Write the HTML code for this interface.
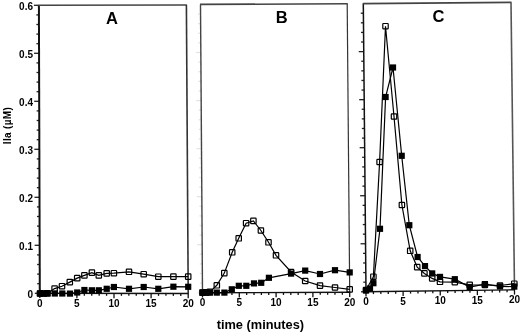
<!DOCTYPE html>
<html><head><meta charset="utf-8"><style>
html,body{margin:0;padding:0;background:#fff;}
body{width:520px;height:333px;overflow:hidden;}
svg{display:block;filter:blur(0.3px);}
text{font-family:"Liberation Sans",sans-serif;font-weight:bold;fill:#000;}
</style></head><body>
<svg width="520" height="333" viewBox="0 0 520 333">
<rect width="520" height="333" fill="#fff"/>
<line x1="34.80" y1="293.30" x2="39.80" y2="293.30" stroke="#222" stroke-width="1.3"/>
<line x1="37.17" y1="283.70" x2="39.77" y2="283.70" stroke="#222" stroke-width="1.3"/>
<line x1="37.14" y1="274.10" x2="39.74" y2="274.10" stroke="#222" stroke-width="1.3"/>
<line x1="37.11" y1="264.50" x2="39.71" y2="264.50" stroke="#222" stroke-width="1.3"/>
<line x1="37.08" y1="254.90" x2="39.68" y2="254.90" stroke="#222" stroke-width="1.3"/>
<line x1="34.65" y1="245.30" x2="39.65" y2="245.30" stroke="#222" stroke-width="1.3"/>
<line x1="37.02" y1="235.70" x2="39.62" y2="235.70" stroke="#222" stroke-width="1.3"/>
<line x1="36.99" y1="226.10" x2="39.59" y2="226.10" stroke="#222" stroke-width="1.3"/>
<line x1="36.96" y1="216.50" x2="39.56" y2="216.50" stroke="#222" stroke-width="1.3"/>
<line x1="36.93" y1="206.90" x2="39.53" y2="206.90" stroke="#222" stroke-width="1.3"/>
<line x1="34.50" y1="197.30" x2="39.50" y2="197.30" stroke="#222" stroke-width="1.3"/>
<line x1="36.87" y1="187.70" x2="39.47" y2="187.70" stroke="#222" stroke-width="1.3"/>
<line x1="36.84" y1="178.10" x2="39.44" y2="178.10" stroke="#222" stroke-width="1.3"/>
<line x1="36.81" y1="168.50" x2="39.41" y2="168.50" stroke="#222" stroke-width="1.3"/>
<line x1="36.78" y1="158.90" x2="39.38" y2="158.90" stroke="#222" stroke-width="1.3"/>
<line x1="34.35" y1="149.30" x2="39.35" y2="149.30" stroke="#222" stroke-width="1.3"/>
<line x1="36.72" y1="139.70" x2="39.32" y2="139.70" stroke="#222" stroke-width="1.3"/>
<line x1="36.69" y1="130.10" x2="39.29" y2="130.10" stroke="#222" stroke-width="1.3"/>
<line x1="36.66" y1="120.50" x2="39.26" y2="120.50" stroke="#222" stroke-width="1.3"/>
<line x1="36.63" y1="110.90" x2="39.23" y2="110.90" stroke="#222" stroke-width="1.3"/>
<line x1="34.20" y1="101.30" x2="39.20" y2="101.30" stroke="#222" stroke-width="1.3"/>
<line x1="36.57" y1="91.70" x2="39.17" y2="91.70" stroke="#222" stroke-width="1.3"/>
<line x1="36.54" y1="82.10" x2="39.14" y2="82.10" stroke="#222" stroke-width="1.3"/>
<line x1="36.51" y1="72.50" x2="39.11" y2="72.50" stroke="#222" stroke-width="1.3"/>
<line x1="36.48" y1="62.90" x2="39.08" y2="62.90" stroke="#222" stroke-width="1.3"/>
<line x1="34.05" y1="53.30" x2="39.05" y2="53.30" stroke="#222" stroke-width="1.3"/>
<line x1="36.42" y1="43.70" x2="39.02" y2="43.70" stroke="#222" stroke-width="1.3"/>
<line x1="36.39" y1="34.10" x2="38.99" y2="34.10" stroke="#222" stroke-width="1.3"/>
<line x1="36.36" y1="24.50" x2="38.96" y2="24.50" stroke="#222" stroke-width="1.3"/>
<line x1="36.33" y1="14.90" x2="38.93" y2="14.90" stroke="#222" stroke-width="1.3"/>
<line x1="33.90" y1="5.30" x2="38.90" y2="5.30" stroke="#222" stroke-width="1.3"/>
<line x1="39.80" y1="293.30" x2="39.80" y2="298.10" stroke="#111" stroke-width="1.3"/>
<line x1="47.22" y1="293.31" x2="47.22" y2="295.71" stroke="#111" stroke-width="1.3"/>
<line x1="54.64" y1="293.32" x2="54.64" y2="295.72" stroke="#111" stroke-width="1.3"/>
<line x1="62.06" y1="293.33" x2="62.06" y2="295.73" stroke="#111" stroke-width="1.3"/>
<line x1="69.48" y1="293.34" x2="69.48" y2="295.74" stroke="#111" stroke-width="1.3"/>
<line x1="76.90" y1="293.35" x2="76.90" y2="298.15" stroke="#111" stroke-width="1.3"/>
<line x1="84.32" y1="293.36" x2="84.32" y2="295.76" stroke="#111" stroke-width="1.3"/>
<line x1="91.74" y1="293.37" x2="91.74" y2="295.77" stroke="#111" stroke-width="1.3"/>
<line x1="99.16" y1="293.38" x2="99.16" y2="295.78" stroke="#111" stroke-width="1.3"/>
<line x1="106.58" y1="293.39" x2="106.58" y2="295.79" stroke="#111" stroke-width="1.3"/>
<line x1="114.00" y1="293.40" x2="114.00" y2="298.20" stroke="#111" stroke-width="1.3"/>
<line x1="121.42" y1="293.41" x2="121.42" y2="295.81" stroke="#111" stroke-width="1.3"/>
<line x1="128.84" y1="293.42" x2="128.84" y2="295.82" stroke="#111" stroke-width="1.3"/>
<line x1="136.26" y1="293.43" x2="136.26" y2="295.83" stroke="#111" stroke-width="1.3"/>
<line x1="143.68" y1="293.44" x2="143.68" y2="295.84" stroke="#111" stroke-width="1.3"/>
<line x1="151.10" y1="293.45" x2="151.10" y2="298.25" stroke="#111" stroke-width="1.3"/>
<line x1="158.52" y1="293.46" x2="158.52" y2="295.86" stroke="#111" stroke-width="1.3"/>
<line x1="165.94" y1="293.47" x2="165.94" y2="295.87" stroke="#111" stroke-width="1.3"/>
<line x1="173.36" y1="293.48" x2="173.36" y2="295.88" stroke="#111" stroke-width="1.3"/>
<line x1="180.78" y1="293.49" x2="180.78" y2="295.89" stroke="#111" stroke-width="1.3"/>
<line x1="188.20" y1="293.50" x2="188.20" y2="298.30" stroke="#111" stroke-width="1.3"/>
<line x1="38.90" y1="5.30" x2="39.80" y2="293.30" stroke="#111" stroke-width="2.0"/>
<line x1="38.40" y1="5.30" x2="186.90" y2="5.00" stroke="#444" stroke-width="1.6"/>
<line x1="186.40" y1="5.00" x2="188.20" y2="293.50" stroke="#333" stroke-width="1.6"/>
<line x1="39.30" y1="293.30" x2="188.70" y2="293.50" stroke="#111" stroke-width="1.4"/>
<line x1="197.50" y1="292.80" x2="202.50" y2="292.80" stroke="#e4e4e4" stroke-width="1.3"/>
<line x1="199.83" y1="283.19" x2="202.43" y2="283.19" stroke="#e4e4e4" stroke-width="1.3"/>
<line x1="199.77" y1="273.57" x2="202.37" y2="273.57" stroke="#e4e4e4" stroke-width="1.3"/>
<line x1="199.70" y1="263.96" x2="202.30" y2="263.96" stroke="#e4e4e4" stroke-width="1.3"/>
<line x1="199.63" y1="254.35" x2="202.23" y2="254.35" stroke="#e4e4e4" stroke-width="1.3"/>
<line x1="197.17" y1="244.73" x2="202.17" y2="244.73" stroke="#e4e4e4" stroke-width="1.3"/>
<line x1="199.50" y1="235.12" x2="202.10" y2="235.12" stroke="#e4e4e4" stroke-width="1.3"/>
<line x1="199.43" y1="225.51" x2="202.03" y2="225.51" stroke="#e4e4e4" stroke-width="1.3"/>
<line x1="199.37" y1="215.89" x2="201.97" y2="215.89" stroke="#e4e4e4" stroke-width="1.3"/>
<line x1="199.30" y1="206.28" x2="201.90" y2="206.28" stroke="#e4e4e4" stroke-width="1.3"/>
<line x1="196.83" y1="196.67" x2="201.83" y2="196.67" stroke="#e4e4e4" stroke-width="1.3"/>
<line x1="199.17" y1="187.05" x2="201.77" y2="187.05" stroke="#e4e4e4" stroke-width="1.3"/>
<line x1="199.10" y1="177.44" x2="201.70" y2="177.44" stroke="#e4e4e4" stroke-width="1.3"/>
<line x1="199.03" y1="167.83" x2="201.63" y2="167.83" stroke="#e4e4e4" stroke-width="1.3"/>
<line x1="198.97" y1="158.21" x2="201.57" y2="158.21" stroke="#e4e4e4" stroke-width="1.3"/>
<line x1="196.50" y1="148.60" x2="201.50" y2="148.60" stroke="#e4e4e4" stroke-width="1.3"/>
<line x1="198.83" y1="138.99" x2="201.43" y2="138.99" stroke="#e4e4e4" stroke-width="1.3"/>
<line x1="198.77" y1="129.37" x2="201.37" y2="129.37" stroke="#e4e4e4" stroke-width="1.3"/>
<line x1="198.70" y1="119.76" x2="201.30" y2="119.76" stroke="#e4e4e4" stroke-width="1.3"/>
<line x1="198.63" y1="110.15" x2="201.23" y2="110.15" stroke="#e4e4e4" stroke-width="1.3"/>
<line x1="196.17" y1="100.53" x2="201.17" y2="100.53" stroke="#e4e4e4" stroke-width="1.3"/>
<line x1="198.50" y1="90.92" x2="201.10" y2="90.92" stroke="#e4e4e4" stroke-width="1.3"/>
<line x1="198.43" y1="81.31" x2="201.03" y2="81.31" stroke="#e4e4e4" stroke-width="1.3"/>
<line x1="198.37" y1="71.69" x2="200.97" y2="71.69" stroke="#e4e4e4" stroke-width="1.3"/>
<line x1="198.30" y1="62.08" x2="200.90" y2="62.08" stroke="#e4e4e4" stroke-width="1.3"/>
<line x1="195.83" y1="52.47" x2="200.83" y2="52.47" stroke="#e4e4e4" stroke-width="1.3"/>
<line x1="198.17" y1="42.85" x2="200.77" y2="42.85" stroke="#e4e4e4" stroke-width="1.3"/>
<line x1="198.10" y1="33.24" x2="200.70" y2="33.24" stroke="#e4e4e4" stroke-width="1.3"/>
<line x1="198.03" y1="23.63" x2="200.63" y2="23.63" stroke="#e4e4e4" stroke-width="1.3"/>
<line x1="197.97" y1="14.01" x2="200.57" y2="14.01" stroke="#e4e4e4" stroke-width="1.3"/>
<line x1="202.50" y1="292.80" x2="202.50" y2="297.60" stroke="#111" stroke-width="1.3"/>
<line x1="209.86" y1="292.78" x2="209.86" y2="295.18" stroke="#111" stroke-width="1.3"/>
<line x1="217.22" y1="292.75" x2="217.22" y2="295.15" stroke="#111" stroke-width="1.3"/>
<line x1="224.58" y1="292.73" x2="224.58" y2="295.12" stroke="#111" stroke-width="1.3"/>
<line x1="231.94" y1="292.70" x2="231.94" y2="295.10" stroke="#111" stroke-width="1.3"/>
<line x1="239.30" y1="292.68" x2="239.30" y2="297.48" stroke="#111" stroke-width="1.3"/>
<line x1="246.66" y1="292.65" x2="246.66" y2="295.05" stroke="#111" stroke-width="1.3"/>
<line x1="254.02" y1="292.62" x2="254.02" y2="295.02" stroke="#111" stroke-width="1.3"/>
<line x1="261.38" y1="292.60" x2="261.38" y2="295.00" stroke="#111" stroke-width="1.3"/>
<line x1="268.74" y1="292.57" x2="268.74" y2="294.97" stroke="#111" stroke-width="1.3"/>
<line x1="276.10" y1="292.55" x2="276.10" y2="297.35" stroke="#111" stroke-width="1.3"/>
<line x1="283.46" y1="292.53" x2="283.46" y2="294.93" stroke="#111" stroke-width="1.3"/>
<line x1="290.82" y1="292.50" x2="290.82" y2="294.90" stroke="#111" stroke-width="1.3"/>
<line x1="298.18" y1="292.48" x2="298.18" y2="294.88" stroke="#111" stroke-width="1.3"/>
<line x1="305.54" y1="292.45" x2="305.54" y2="294.85" stroke="#111" stroke-width="1.3"/>
<line x1="312.90" y1="292.43" x2="312.90" y2="297.23" stroke="#111" stroke-width="1.3"/>
<line x1="320.26" y1="292.40" x2="320.26" y2="294.80" stroke="#111" stroke-width="1.3"/>
<line x1="327.62" y1="292.38" x2="327.62" y2="294.77" stroke="#111" stroke-width="1.3"/>
<line x1="334.98" y1="292.35" x2="334.98" y2="294.75" stroke="#111" stroke-width="1.3"/>
<line x1="342.34" y1="292.32" x2="342.34" y2="294.72" stroke="#111" stroke-width="1.3"/>
<line x1="349.70" y1="292.30" x2="349.70" y2="297.10" stroke="#111" stroke-width="1.3"/>
<line x1="200.50" y1="4.40" x2="202.50" y2="292.80" stroke="#444" stroke-width="1.4"/>
<line x1="200.00" y1="4.40" x2="347.70" y2="3.80" stroke="#444" stroke-width="1.6"/>
<line x1="347.20" y1="3.80" x2="349.70" y2="292.30" stroke="#333" stroke-width="1.2"/>
<line x1="202.00" y1="292.80" x2="350.20" y2="292.30" stroke="#111" stroke-width="1.4"/>
<line x1="361.00" y1="291.80" x2="366.00" y2="291.80" stroke="#222" stroke-width="1.3"/>
<line x1="363.31" y1="282.19" x2="365.91" y2="282.19" stroke="#222" stroke-width="1.3"/>
<line x1="363.22" y1="272.59" x2="365.82" y2="272.59" stroke="#222" stroke-width="1.3"/>
<line x1="363.13" y1="262.98" x2="365.73" y2="262.98" stroke="#222" stroke-width="1.3"/>
<line x1="363.04" y1="253.37" x2="365.64" y2="253.37" stroke="#222" stroke-width="1.3"/>
<line x1="360.55" y1="243.77" x2="365.55" y2="243.77" stroke="#222" stroke-width="1.3"/>
<line x1="362.86" y1="234.16" x2="365.46" y2="234.16" stroke="#222" stroke-width="1.3"/>
<line x1="362.77" y1="224.55" x2="365.37" y2="224.55" stroke="#222" stroke-width="1.3"/>
<line x1="362.68" y1="214.95" x2="365.28" y2="214.95" stroke="#222" stroke-width="1.3"/>
<line x1="362.59" y1="205.34" x2="365.19" y2="205.34" stroke="#222" stroke-width="1.3"/>
<line x1="360.10" y1="195.73" x2="365.10" y2="195.73" stroke="#222" stroke-width="1.3"/>
<line x1="362.41" y1="186.13" x2="365.01" y2="186.13" stroke="#222" stroke-width="1.3"/>
<line x1="362.32" y1="176.52" x2="364.92" y2="176.52" stroke="#222" stroke-width="1.3"/>
<line x1="362.23" y1="166.91" x2="364.83" y2="166.91" stroke="#222" stroke-width="1.3"/>
<line x1="362.14" y1="157.31" x2="364.74" y2="157.31" stroke="#222" stroke-width="1.3"/>
<line x1="359.65" y1="147.70" x2="364.65" y2="147.70" stroke="#222" stroke-width="1.3"/>
<line x1="361.96" y1="138.09" x2="364.56" y2="138.09" stroke="#222" stroke-width="1.3"/>
<line x1="361.87" y1="128.49" x2="364.47" y2="128.49" stroke="#222" stroke-width="1.3"/>
<line x1="361.78" y1="118.88" x2="364.38" y2="118.88" stroke="#222" stroke-width="1.3"/>
<line x1="361.69" y1="109.27" x2="364.29" y2="109.27" stroke="#222" stroke-width="1.3"/>
<line x1="359.20" y1="99.67" x2="364.20" y2="99.67" stroke="#222" stroke-width="1.3"/>
<line x1="361.51" y1="90.06" x2="364.11" y2="90.06" stroke="#222" stroke-width="1.3"/>
<line x1="361.42" y1="80.45" x2="364.02" y2="80.45" stroke="#222" stroke-width="1.3"/>
<line x1="361.33" y1="70.85" x2="363.93" y2="70.85" stroke="#222" stroke-width="1.3"/>
<line x1="361.24" y1="61.24" x2="363.84" y2="61.24" stroke="#222" stroke-width="1.3"/>
<line x1="358.75" y1="51.63" x2="363.75" y2="51.63" stroke="#222" stroke-width="1.3"/>
<line x1="361.06" y1="42.03" x2="363.66" y2="42.03" stroke="#222" stroke-width="1.3"/>
<line x1="360.97" y1="32.42" x2="363.57" y2="32.42" stroke="#222" stroke-width="1.3"/>
<line x1="360.88" y1="22.81" x2="363.48" y2="22.81" stroke="#222" stroke-width="1.3"/>
<line x1="360.79" y1="13.21" x2="363.39" y2="13.21" stroke="#222" stroke-width="1.3"/>
<line x1="366.00" y1="291.80" x2="366.00" y2="296.60" stroke="#111" stroke-width="1.3"/>
<line x1="373.43" y1="291.70" x2="373.43" y2="294.10" stroke="#111" stroke-width="1.3"/>
<line x1="380.85" y1="291.60" x2="380.85" y2="294.00" stroke="#111" stroke-width="1.3"/>
<line x1="388.27" y1="291.50" x2="388.27" y2="293.90" stroke="#111" stroke-width="1.3"/>
<line x1="395.70" y1="291.40" x2="395.70" y2="293.80" stroke="#111" stroke-width="1.3"/>
<line x1="403.12" y1="291.30" x2="403.12" y2="296.10" stroke="#111" stroke-width="1.3"/>
<line x1="410.55" y1="291.20" x2="410.55" y2="293.60" stroke="#111" stroke-width="1.3"/>
<line x1="417.98" y1="291.10" x2="417.98" y2="293.50" stroke="#111" stroke-width="1.3"/>
<line x1="425.40" y1="291.00" x2="425.40" y2="293.40" stroke="#111" stroke-width="1.3"/>
<line x1="432.82" y1="290.90" x2="432.82" y2="293.30" stroke="#111" stroke-width="1.3"/>
<line x1="440.25" y1="290.80" x2="440.25" y2="295.60" stroke="#111" stroke-width="1.3"/>
<line x1="447.68" y1="290.70" x2="447.68" y2="293.10" stroke="#111" stroke-width="1.3"/>
<line x1="455.10" y1="290.60" x2="455.10" y2="293.00" stroke="#111" stroke-width="1.3"/>
<line x1="462.52" y1="290.50" x2="462.52" y2="292.90" stroke="#111" stroke-width="1.3"/>
<line x1="469.95" y1="290.40" x2="469.95" y2="292.80" stroke="#111" stroke-width="1.3"/>
<line x1="477.38" y1="290.30" x2="477.38" y2="295.10" stroke="#111" stroke-width="1.3"/>
<line x1="484.80" y1="290.20" x2="484.80" y2="292.60" stroke="#111" stroke-width="1.3"/>
<line x1="492.23" y1="290.10" x2="492.23" y2="292.50" stroke="#111" stroke-width="1.3"/>
<line x1="499.65" y1="290.00" x2="499.65" y2="292.40" stroke="#111" stroke-width="1.3"/>
<line x1="507.07" y1="289.90" x2="507.07" y2="292.30" stroke="#111" stroke-width="1.3"/>
<line x1="514.50" y1="289.80" x2="514.50" y2="294.60" stroke="#111" stroke-width="1.3"/>
<line x1="363.30" y1="3.60" x2="366.00" y2="291.80" stroke="#111" stroke-width="1.5"/>
<line x1="362.80" y1="3.60" x2="511.50" y2="2.40" stroke="#444" stroke-width="1.8"/>
<line x1="511.00" y1="2.40" x2="514.50" y2="289.80" stroke="#555" stroke-width="1.6"/>
<line x1="365.50" y1="291.80" x2="515.00" y2="289.80" stroke="#111" stroke-width="1.4"/>
<polyline points="40.00,293.50 43.70,293.50 47.40,293.30 54.60,288.60 62.00,286.20 69.80,282.10 77.20,278.10 84.40,275.40 91.90,272.60 98.80,275.40 106.70,273.40 113.90,273.20 129.00,271.80 143.70,274.20 158.30,276.70 173.40,276.60 188.20,276.60" fill="none" stroke="#000" stroke-width="1.2"/>
<polyline points="40.00,293.50 43.70,293.50 47.40,293.50 54.80,293.50 62.30,293.50 70.00,293.60 77.20,292.50 84.40,290.00 91.90,290.30 98.80,290.30 106.70,288.80 113.90,287.00 129.00,288.80 143.70,287.00 158.30,288.80 173.40,286.70 188.20,286.80" fill="none" stroke="#000" stroke-width="1.2"/>
<rect x="37.30" y="290.80" width="5.40" height="5.40" rx="0.6" fill="none" stroke="#000" stroke-width="1.2"/>
<rect x="41.00" y="290.80" width="5.40" height="5.40" rx="0.6" fill="none" stroke="#000" stroke-width="1.2"/>
<rect x="44.70" y="290.60" width="5.40" height="5.40" rx="0.6" fill="none" stroke="#000" stroke-width="1.2"/>
<rect x="51.90" y="285.90" width="5.40" height="5.40" rx="0.6" fill="none" stroke="#000" stroke-width="1.2"/>
<rect x="59.30" y="283.50" width="5.40" height="5.40" rx="0.6" fill="none" stroke="#000" stroke-width="1.2"/>
<rect x="67.10" y="279.40" width="5.40" height="5.40" rx="0.6" fill="none" stroke="#000" stroke-width="1.2"/>
<rect x="74.50" y="275.40" width="5.40" height="5.40" rx="0.6" fill="none" stroke="#000" stroke-width="1.2"/>
<rect x="81.70" y="272.70" width="5.40" height="5.40" rx="0.6" fill="none" stroke="#000" stroke-width="1.2"/>
<rect x="89.20" y="269.90" width="5.40" height="5.40" rx="0.6" fill="none" stroke="#000" stroke-width="1.2"/>
<rect x="96.10" y="272.70" width="5.40" height="5.40" rx="0.6" fill="none" stroke="#000" stroke-width="1.2"/>
<rect x="104.00" y="270.70" width="5.40" height="5.40" rx="0.6" fill="none" stroke="#000" stroke-width="1.2"/>
<rect x="111.20" y="270.50" width="5.40" height="5.40" rx="0.6" fill="none" stroke="#000" stroke-width="1.2"/>
<rect x="126.30" y="269.10" width="5.40" height="5.40" rx="0.6" fill="none" stroke="#000" stroke-width="1.2"/>
<rect x="141.00" y="271.50" width="5.40" height="5.40" rx="0.6" fill="none" stroke="#000" stroke-width="1.2"/>
<rect x="155.60" y="274.00" width="5.40" height="5.40" rx="0.6" fill="none" stroke="#000" stroke-width="1.2"/>
<rect x="170.70" y="273.90" width="5.40" height="5.40" rx="0.6" fill="none" stroke="#000" stroke-width="1.2"/>
<rect x="185.50" y="273.90" width="5.40" height="5.40" rx="0.6" fill="none" stroke="#000" stroke-width="1.2"/>
<rect x="36.90" y="290.40" width="6.20" height="6.20" fill="#000"/>
<rect x="40.60" y="290.40" width="6.20" height="6.20" fill="#000"/>
<rect x="44.30" y="290.40" width="6.20" height="6.20" fill="#000"/>
<rect x="51.70" y="290.40" width="6.20" height="6.20" fill="#000"/>
<rect x="59.20" y="290.40" width="6.20" height="6.20" fill="#000"/>
<rect x="66.90" y="290.50" width="6.20" height="6.20" fill="#000"/>
<rect x="74.10" y="289.40" width="6.20" height="6.20" fill="#000"/>
<rect x="81.30" y="286.90" width="6.20" height="6.20" fill="#000"/>
<rect x="88.80" y="287.20" width="6.20" height="6.20" fill="#000"/>
<rect x="95.70" y="287.20" width="6.20" height="6.20" fill="#000"/>
<rect x="103.60" y="285.70" width="6.20" height="6.20" fill="#000"/>
<rect x="110.80" y="283.90" width="6.20" height="6.20" fill="#000"/>
<rect x="125.90" y="285.70" width="6.20" height="6.20" fill="#000"/>
<rect x="140.60" y="283.90" width="6.20" height="6.20" fill="#000"/>
<rect x="155.20" y="285.70" width="6.20" height="6.20" fill="#000"/>
<rect x="170.30" y="283.60" width="6.20" height="6.20" fill="#000"/>
<rect x="185.10" y="283.70" width="6.20" height="6.20" fill="#000"/>
<polyline points="202.50,292.60 206.20,292.40 209.90,291.90 216.80,285.30 224.30,273.10 232.20,252.30 238.70,238.30 246.10,223.20 253.40,220.90 260.90,230.50 268.50,242.30 276.00,255.30 291.10,272.00 305.20,281.00 320.00,285.60 335.00,287.50 349.70,289.40" fill="none" stroke="#000" stroke-width="1.2"/>
<polyline points="202.50,292.60 206.20,292.60 209.90,292.60 216.80,292.60 224.40,292.60 231.80,289.30 238.80,285.80 246.30,285.80 254.00,283.40 261.20,282.80 268.90,277.80 291.10,273.60 305.20,270.60 320.00,274.00 335.00,270.20 349.70,272.40" fill="none" stroke="#000" stroke-width="1.2"/>
<rect x="199.80" y="289.90" width="5.40" height="5.40" rx="0.6" fill="none" stroke="#000" stroke-width="1.2"/>
<rect x="203.50" y="289.70" width="5.40" height="5.40" rx="0.6" fill="none" stroke="#000" stroke-width="1.2"/>
<rect x="207.20" y="289.20" width="5.40" height="5.40" rx="0.6" fill="none" stroke="#000" stroke-width="1.2"/>
<rect x="214.10" y="282.60" width="5.40" height="5.40" rx="0.6" fill="none" stroke="#000" stroke-width="1.2"/>
<rect x="221.60" y="270.40" width="5.40" height="5.40" rx="0.6" fill="none" stroke="#000" stroke-width="1.2"/>
<rect x="229.50" y="249.60" width="5.40" height="5.40" rx="0.6" fill="none" stroke="#000" stroke-width="1.2"/>
<rect x="236.00" y="235.60" width="5.40" height="5.40" rx="0.6" fill="none" stroke="#000" stroke-width="1.2"/>
<rect x="243.40" y="220.50" width="5.40" height="5.40" rx="0.6" fill="none" stroke="#000" stroke-width="1.2"/>
<rect x="250.70" y="218.20" width="5.40" height="5.40" rx="0.6" fill="none" stroke="#000" stroke-width="1.2"/>
<rect x="258.20" y="227.80" width="5.40" height="5.40" rx="0.6" fill="none" stroke="#000" stroke-width="1.2"/>
<rect x="265.80" y="239.60" width="5.40" height="5.40" rx="0.6" fill="none" stroke="#000" stroke-width="1.2"/>
<rect x="273.30" y="252.60" width="5.40" height="5.40" rx="0.6" fill="none" stroke="#000" stroke-width="1.2"/>
<rect x="288.40" y="269.30" width="5.40" height="5.40" rx="0.6" fill="none" stroke="#000" stroke-width="1.2"/>
<rect x="302.50" y="278.30" width="5.40" height="5.40" rx="0.6" fill="none" stroke="#000" stroke-width="1.2"/>
<rect x="317.30" y="282.90" width="5.40" height="5.40" rx="0.6" fill="none" stroke="#000" stroke-width="1.2"/>
<rect x="332.30" y="284.80" width="5.40" height="5.40" rx="0.6" fill="none" stroke="#000" stroke-width="1.2"/>
<rect x="347.00" y="286.70" width="5.40" height="5.40" rx="0.6" fill="none" stroke="#000" stroke-width="1.2"/>
<rect x="199.40" y="289.50" width="6.20" height="6.20" fill="#000"/>
<rect x="203.10" y="289.50" width="6.20" height="6.20" fill="#000"/>
<rect x="206.80" y="289.50" width="6.20" height="6.20" fill="#000"/>
<rect x="213.70" y="289.50" width="6.20" height="6.20" fill="#000"/>
<rect x="221.30" y="289.50" width="6.20" height="6.20" fill="#000"/>
<rect x="228.70" y="286.20" width="6.20" height="6.20" fill="#000"/>
<rect x="235.70" y="282.70" width="6.20" height="6.20" fill="#000"/>
<rect x="243.20" y="282.70" width="6.20" height="6.20" fill="#000"/>
<rect x="250.90" y="280.30" width="6.20" height="6.20" fill="#000"/>
<rect x="258.10" y="279.70" width="6.20" height="6.20" fill="#000"/>
<rect x="265.80" y="274.70" width="6.20" height="6.20" fill="#000"/>
<rect x="288.00" y="270.50" width="6.20" height="6.20" fill="#000"/>
<rect x="302.10" y="267.50" width="6.20" height="6.20" fill="#000"/>
<rect x="316.90" y="270.90" width="6.20" height="6.20" fill="#000"/>
<rect x="331.90" y="267.10" width="6.20" height="6.20" fill="#000"/>
<rect x="346.60" y="269.30" width="6.20" height="6.20" fill="#000"/>
<polyline points="366.00,290.00 373.40,276.70 379.60,162.00 385.50,26.20 394.00,116.50 401.90,205.00 410.20,250.80 417.20,267.10 424.40,273.40 432.20,278.40 440.00,281.80 454.80,282.20 469.70,284.90 484.90,285.00 500.00,285.50 514.30,283.70" fill="none" stroke="#000" stroke-width="1.2"/>
<polyline points="366.00,290.50 370.00,288.50 373.40,283.20 380.00,228.80 385.60,97.00 393.00,67.50 401.70,155.80 409.30,225.20 417.60,257.00 425.00,266.10 432.20,273.40 440.00,276.90 454.80,279.20 469.70,287.00 484.90,284.10 500.00,286.40 514.30,286.60" fill="none" stroke="#000" stroke-width="1.2"/>
<rect x="363.30" y="287.30" width="5.40" height="5.40" rx="0.6" fill="none" stroke="#000" stroke-width="1.2"/>
<rect x="370.70" y="274.00" width="5.40" height="5.40" rx="0.6" fill="none" stroke="#000" stroke-width="1.2"/>
<rect x="376.90" y="159.30" width="5.40" height="5.40" rx="0.6" fill="none" stroke="#000" stroke-width="1.2"/>
<rect x="382.80" y="23.50" width="5.40" height="5.40" rx="0.6" fill="none" stroke="#000" stroke-width="1.2"/>
<rect x="391.30" y="113.80" width="5.40" height="5.40" rx="0.6" fill="none" stroke="#000" stroke-width="1.2"/>
<rect x="399.20" y="202.30" width="5.40" height="5.40" rx="0.6" fill="none" stroke="#000" stroke-width="1.2"/>
<rect x="407.50" y="248.10" width="5.40" height="5.40" rx="0.6" fill="none" stroke="#000" stroke-width="1.2"/>
<rect x="414.50" y="264.40" width="5.40" height="5.40" rx="0.6" fill="none" stroke="#000" stroke-width="1.2"/>
<rect x="421.70" y="270.70" width="5.40" height="5.40" rx="0.6" fill="none" stroke="#000" stroke-width="1.2"/>
<rect x="429.50" y="275.70" width="5.40" height="5.40" rx="0.6" fill="none" stroke="#000" stroke-width="1.2"/>
<rect x="437.30" y="279.10" width="5.40" height="5.40" rx="0.6" fill="none" stroke="#000" stroke-width="1.2"/>
<rect x="452.10" y="279.50" width="5.40" height="5.40" rx="0.6" fill="none" stroke="#000" stroke-width="1.2"/>
<rect x="467.00" y="282.20" width="5.40" height="5.40" rx="0.6" fill="none" stroke="#000" stroke-width="1.2"/>
<rect x="482.20" y="282.30" width="5.40" height="5.40" rx="0.6" fill="none" stroke="#000" stroke-width="1.2"/>
<rect x="497.30" y="282.80" width="5.40" height="5.40" rx="0.6" fill="none" stroke="#000" stroke-width="1.2"/>
<rect x="511.60" y="281.00" width="5.40" height="5.40" rx="0.6" fill="none" stroke="#000" stroke-width="1.2"/>
<rect x="362.90" y="287.40" width="6.20" height="6.20" fill="#000"/>
<rect x="366.90" y="285.40" width="6.20" height="6.20" fill="#000"/>
<rect x="370.30" y="280.10" width="6.20" height="6.20" fill="#000"/>
<rect x="376.90" y="225.70" width="6.20" height="6.20" fill="#000"/>
<rect x="382.50" y="93.90" width="6.20" height="6.20" fill="#000"/>
<rect x="389.90" y="64.40" width="6.20" height="6.20" fill="#000"/>
<rect x="398.60" y="152.70" width="6.20" height="6.20" fill="#000"/>
<rect x="406.20" y="222.10" width="6.20" height="6.20" fill="#000"/>
<rect x="414.50" y="253.90" width="6.20" height="6.20" fill="#000"/>
<rect x="421.90" y="263.00" width="6.20" height="6.20" fill="#000"/>
<rect x="429.10" y="270.30" width="6.20" height="6.20" fill="#000"/>
<rect x="436.90" y="273.80" width="6.20" height="6.20" fill="#000"/>
<rect x="451.70" y="276.10" width="6.20" height="6.20" fill="#000"/>
<rect x="466.60" y="283.90" width="6.20" height="6.20" fill="#000"/>
<rect x="481.80" y="281.00" width="6.20" height="6.20" fill="#000"/>
<rect x="496.90" y="283.30" width="6.20" height="6.20" fill="#000"/>
<rect x="511.20" y="283.50" width="6.20" height="6.20" fill="#000"/>
<text x="33.00" y="297.50" font-size="10" text-anchor="end" >0</text>
<text x="33.00" y="249.50" font-size="10" text-anchor="end" >0.1</text>
<text x="33.00" y="201.50" font-size="10" text-anchor="end" >0.2</text>
<text x="33.00" y="153.50" font-size="10" text-anchor="end" >0.3</text>
<text x="33.00" y="105.50" font-size="10" text-anchor="end" >0.4</text>
<text x="33.00" y="57.50" font-size="10" text-anchor="end" >0.5</text>
<text x="33.00" y="9.50" font-size="10" text-anchor="end" >0.6</text>
<text x="39.80" y="306.50" font-size="10" text-anchor="middle" >0</text>
<text x="76.90" y="306.55" font-size="10" text-anchor="middle" >5</text>
<text x="114.00" y="306.60" font-size="10" text-anchor="middle" >10</text>
<text x="151.10" y="306.65" font-size="10" text-anchor="middle" >15</text>
<text x="188.20" y="306.70" font-size="10" text-anchor="middle" >20</text>
<text x="202.50" y="306.00" font-size="10" text-anchor="middle" >0</text>
<text x="239.30" y="305.88" font-size="10" text-anchor="middle" >5</text>
<text x="276.10" y="305.75" font-size="10" text-anchor="middle" >10</text>
<text x="312.90" y="305.62" font-size="10" text-anchor="middle" >15</text>
<text x="349.70" y="305.50" font-size="10" text-anchor="middle" >20</text>
<text x="366.00" y="305.00" font-size="10" text-anchor="middle" >0</text>
<text x="403.12" y="304.50" font-size="10" text-anchor="middle" >5</text>
<text x="440.25" y="304.00" font-size="10" text-anchor="middle" >10</text>
<text x="477.38" y="303.50" font-size="10" text-anchor="middle" >15</text>
<text x="514.50" y="303.00" font-size="10" text-anchor="middle" >20</text>
<text x="111.90" y="23.60" font-size="16.5" text-anchor="middle" >A</text>
<text x="281.60" y="23.00" font-size="16.5" text-anchor="middle" >B</text>
<text x="438.50" y="21.60" font-size="16.5" text-anchor="middle" >C</text>
<text x="260.40" y="328.70" font-size="12.8" text-anchor="middle" >time (minutes)</text>
<text transform="translate(10.9,125.5) rotate(-90)" font-size="10" text-anchor="middle" letter-spacing="0.35">IIa (µM)</text>
</svg>
</body></html>
